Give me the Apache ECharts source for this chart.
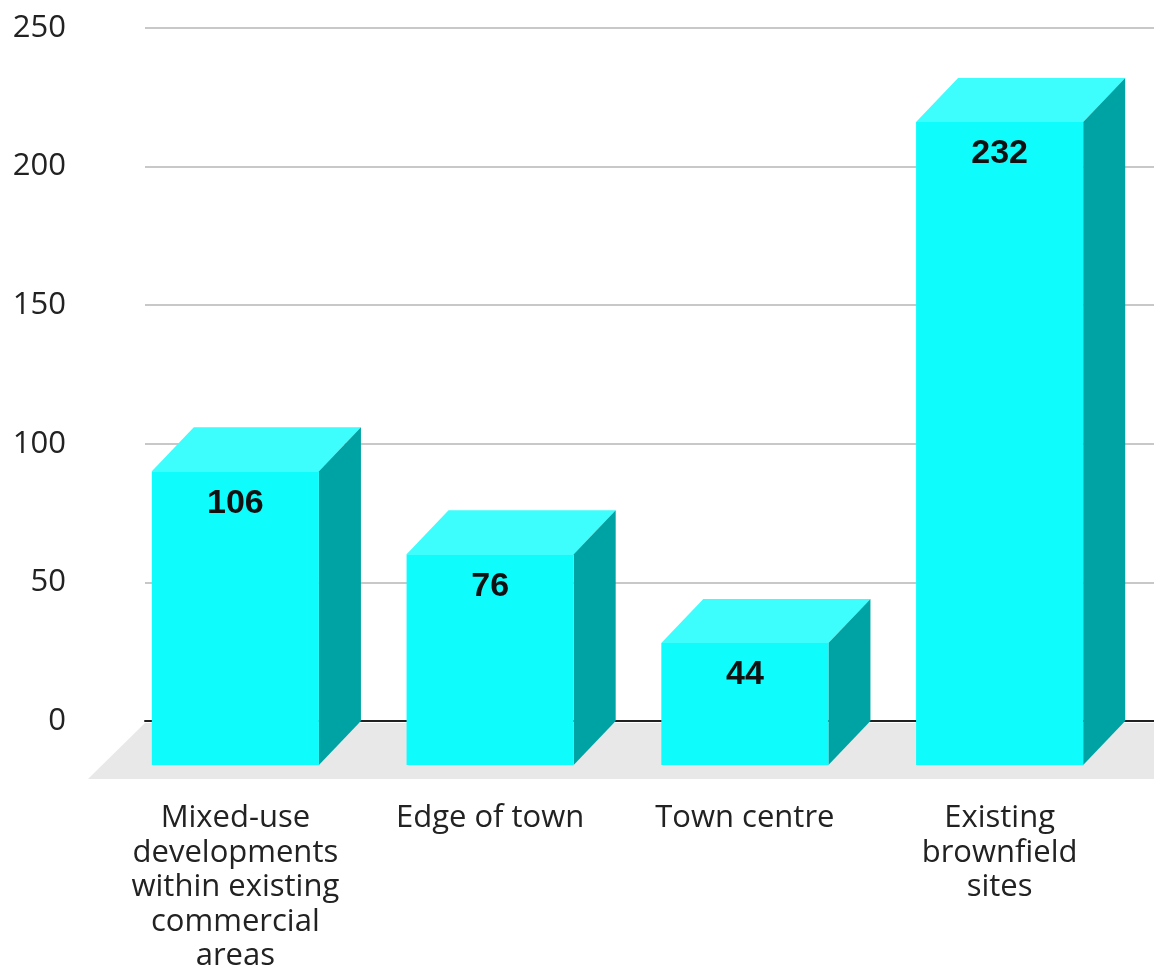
<!DOCTYPE html>
<html>
<head>
<meta charset="utf-8">
<script src="https://cdn.jsdelivr.net/npm/echarts@6/dist/echarts.min.js"></script>
<style>
html,body{margin:0;padding:0;background:#fff;}
#chart{width:1154px;height:979px;}
</style>
</head>
<body>
<div id="chart"></div>
<script>
var categories = [
  "Mixed-use\ndevelopments\nwithin existing\ncommercial\nareas",
  "Edge of town",
  "Town centre",
  "Existing\nbrownfield\nsites"
];
var values = [106, 76, 44, 232];
var yMin = 0, yMax = 250, yStep = 50;

var DX = 42, DY = 44;           // 3D depth offsets (px)
var FRONT = '#0ffcfc', TOP = '#3dfdfd', SIDE = '#00a3a3';

var chart = echarts.init(document.getElementById('chart'), null, {renderer: 'canvas'});

function renderBar(params, api) {
  var i = api.value(0), v = api.value(1);
  var top = api.coord([i, v]);
  var base = api.coord([i, 0]);
  var band = api.size([1, 0])[0];
  var hw = band * 0.328;
  var cx = top[0], cy = top[1], y0 = base[1];
  var L = cx - hw, R = cx + hw;
  return {
    type: 'group',
    children: [
      {type: 'polygon', shape: {points: [[L, cy + DY], [L + DX, cy], [R + DX, cy], [R, cy + DY]]},
       style: {fill: TOP}},
      {type: 'polygon', shape: {points: [[R, cy + DY], [R + DX, cy], [R + DX, y0], [R, y0 + DY]]},
       style: {fill: SIDE}},
      {type: 'rect', shape: {x: L, y: cy + DY, width: 2 * hw, height: y0 - cy}, style: {fill: FRONT}},
      {type: 'text', x: cx, y: cy + DY + 32,
       style: {text: String(v), fill: '#111', font: 'bold 34px "Liberation Sans", Arial, sans-serif',
               align: 'center', verticalAlign: 'middle'}}
    ]
  };
}

function renderFloor(params, api) {
  var cs = params.coordSys;
  var y0 = api.coord([0, 0])[1];
  var x0 = cs.x, x1 = cs.x + cs.width;
  return {
    type: 'polygon',
    shape: {points: [[x0, y0 + 2], [x1, y0 + 2], [x1, y0 + 58], [x0 - 57, y0 + 58]]},
    style: {fill: '#e8e8e8'}
  };
}

var option = {
  backgroundColor: '#ffffff',
  animation: false,
  grid: [
    {left: 145, right: 0, top: 28, bottom: 258},
    {left: 108, right: 27, top: 28, bottom: 258}
  ],
  xAxis: [
    {gridIndex: 0, type: 'category', data: categories,
     axisLine: {show: true, lineStyle: {color: '#222', width: 2}},
     axisTick: {show: false}, axisLabel: {show: false}, splitLine: {show: false}},
    {gridIndex: 1, type: 'category', data: categories,
     axisLine: {show: false}, axisTick: {show: false}, splitLine: {show: false},
     axisLabel: {interval: 0, margin: 80, fontSize: 31, lineHeight: 34.5,
                 fontFamily: '"Open Sans", sans-serif', color: '#222', align: 'center'}}
  ],
  yAxis: [
    {gridIndex: 0, type: 'value', min: yMin, max: yMax, interval: yStep,
     axisLine: {show: false}, axisTick: {show: false},
     axisLabel: {margin: 79, fontSize: 31, fontFamily: '"Open Sans", sans-serif', color: '#222'},
     splitLine: {show: true, lineStyle: {color: '#c8c8c8', width: 2}}},
    {gridIndex: 1, type: 'value', min: yMin, max: yMax, interval: yStep, show: false}
  ],
  series: [
    {type: 'custom', name: 'floor', xAxisIndex: 0, yAxisIndex: 0, data: [[0, 0]],
     renderItem: renderFloor, z: 1, silent: true},
    {type: 'custom', name: 'bars', xAxisIndex: 1, yAxisIndex: 1,
     data: values.map(function (v, i) { return [i, v]; }),
     encode: {x: 0, y: 1},
     renderItem: renderBar, z: 5}
  ]
};
chart.setOption(option);
</script>
</body>
</html>
